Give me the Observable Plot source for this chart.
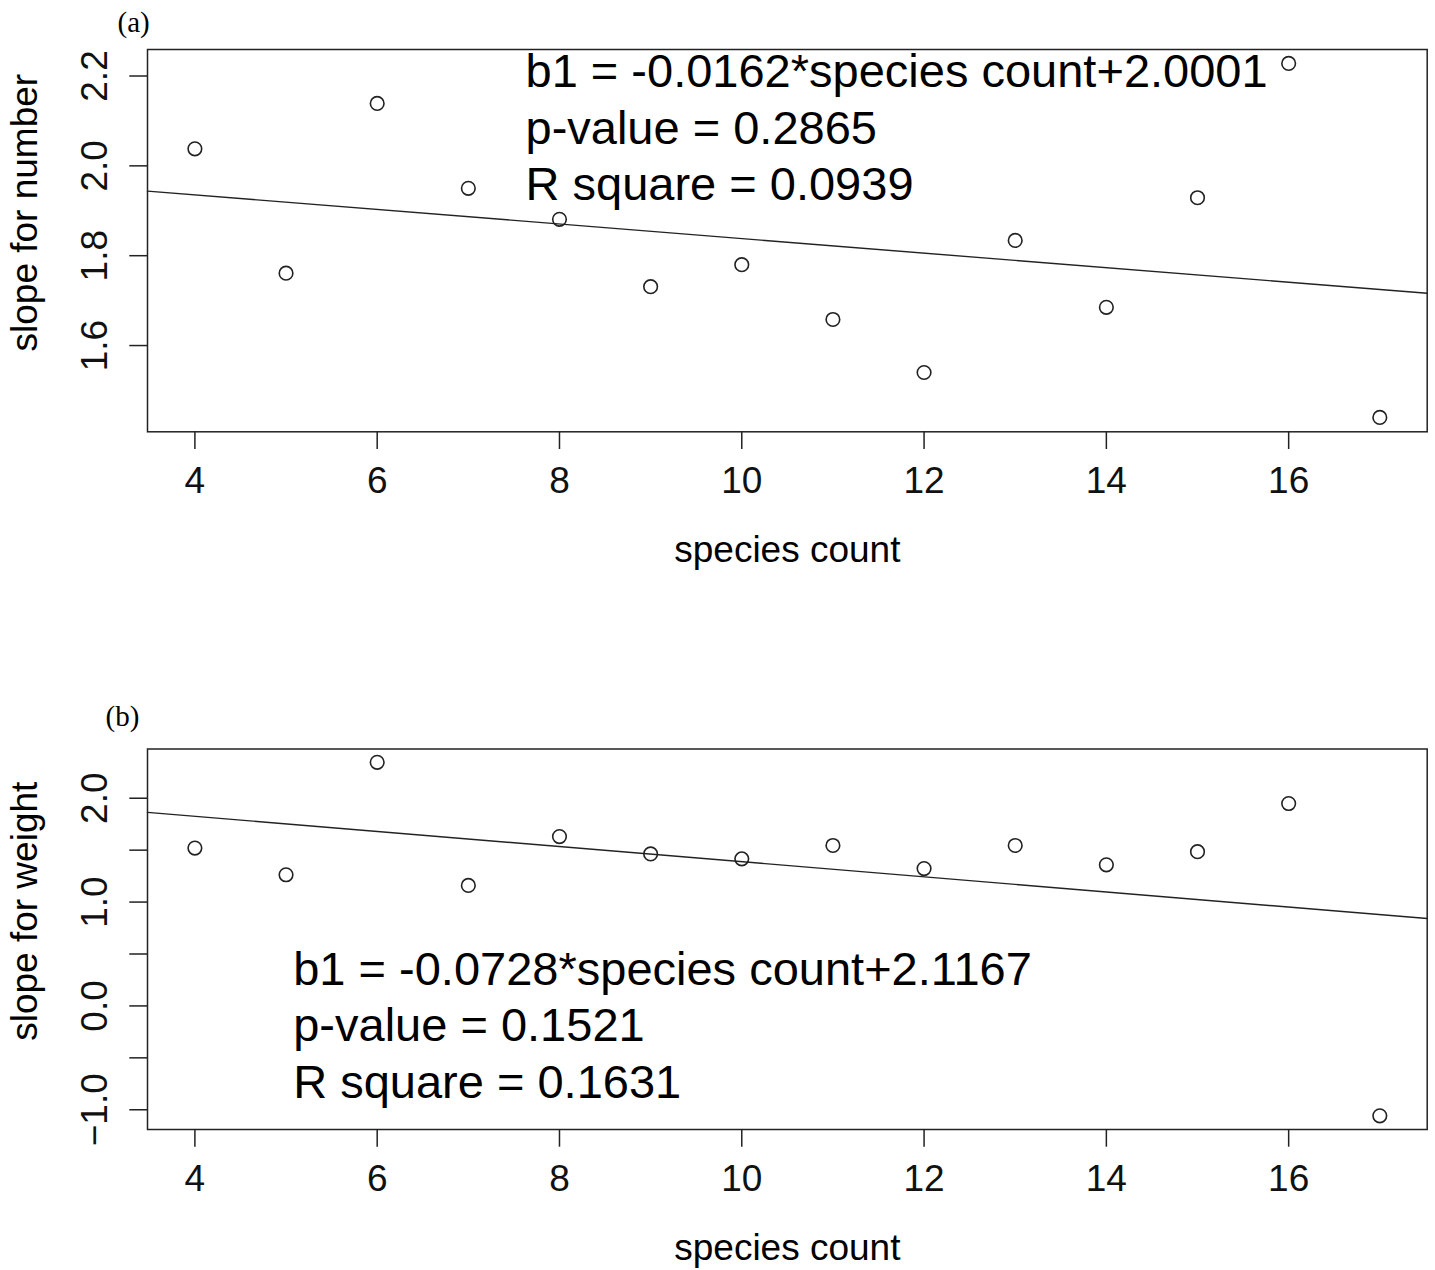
<!DOCTYPE html>
<html><head><meta charset="utf-8">
<script src="https://cdn.jsdelivr.net/npm/d3@7"></script>
<script src="https://cdn.jsdelivr.net/npm/@observablehq/plot@0.6"></script>
<style>
html,body{margin:0;padding:0;background:#fff;}
#chart{width:1435px;}
#chart svg{display:block;}
</style></head><body><div id="chart"></div>
<script>
// ---- data ----
const speciesCount = [4, 5, 6, 7, 8, 9, 10, 11, 12, 13, 14, 15, 16, 17];
const slopeNumber = [2.038, 1.761, 2.139, 1.950, 1.881, 1.731, 1.780, 1.658, 1.540, 1.834, 1.685, 1.929, 2.228, 1.440];
const slopeWeight = [1.520, 1.263, 2.346, 1.160, 1.631, 1.464, 1.416, 1.545, 1.323, 1.545, 1.359, 1.485, 1.949, -1.058];
const xTicks = [4, 6, 8, 10, 12, 14, 16];
const yTicksA = [1.6, 1.8, 2.0, 2.2];
const yTicksB = [-1.0, -0.5, 0.0, 0.5, 1.0, 1.5, 2.0];
const yLabelsB = [-1.0, 0.0, 1.0, 2.0];
const fitSlope = [-0.0162, -0.0728];
const fitIntercept = [2.0001, 2.1167];
const panelTags = ["(a)", "(b)"];
const yTitles = ["slope for number", "slope for weight"];
const xTitle = "species count";
const annotations = [
  ["b1 = -0.0162*species count+2.0001", "p-value = 0.2865", "R square = 0.0939"],
  ["b1 = -0.0728*species count+2.1167", "p-value = 0.1521", "R square = 0.1631"]
];

const xDomain = [3.48, 17.52];
const yDomains = [[1.408, 2.259], [-1.19, 2.474]];

const SANS = "'Liberation Sans', Arial, sans-serif";
const SERIF = "'Liberation Serif', 'Times New Roman', serif";
const INK = "#222";

function panel(i, values, cfg) {
  const rows = speciesCount.map((x, k) => ({x, y: values[k]}));
  const fit = xDomain.map(x => ({x, y: fitSlope[i] * x + fitIntercept[i]}));
  return Plot.plot({
    width: 1435,
    height: cfg.height,
    marginTop: cfg.marginTop,
    marginBottom: cfg.marginBottom,
    marginLeft: 147,
    marginRight: 8.3,
    style: {fontFamily: SANS, background: "#fff", color: "#111", overflow: "visible"},
    x: {domain: xDomain, label: null},
    y: {domain: yDomains[i], label: null},
    marks: [
      Plot.frame({stroke: INK, strokeWidth: 1.5}),
      Plot.axisX({ticks: xTicks, tickSize: 17.7, tickPadding: 17.7, fontSize: 37, stroke: INK, strokeWidth: 1.5, label: null, tickFormat: d => String(d)}),
      Plot.axisY({ticks: cfg.yTicks, tickSize: 17.7, tickPadding: 23.3, tickRotate: -90, fontSize: 37, stroke: INK, strokeWidth: 1.5, label: null,
        tickFormat: cfg.yFormat}),
      Plot.line(fit, {x: "x", y: "y", stroke: INK, strokeWidth: 1.4}),
      Plot.dot(rows, {x: "x", y: "y", r: 6.8, stroke: INK, strokeWidth: 1.6, fill: "none"}),
      Plot.text([annotations[i].join("\n")], {frameAnchor: "top-left", textAnchor: "start", lineAnchor: "bottom",
        lineHeight: 1.198, dx: cfg.annDx, dy: cfg.annDy, fontSize: 47, fill: "#000"}),
      Plot.text([xTitle], {frameAnchor: "bottom", lineAnchor: "bottom", dy: 130.2, fontSize: 37, fill: "#000"}),
      Plot.text([yTitles[i]], {frameAnchor: "left", rotate: -90, textAnchor: "middle", lineAnchor: "bottom",
        dx: -111, dy: -28, fontSize: 37, fill: "#000"}),
      Plot.text([panelTags[i]], {frameAnchor: "top-left", textAnchor: "start", lineAnchor: "bottom",
        dx: cfg.tagDx, dy: cfg.tagDy, fontSize: 29, fontFamily: SERIF, fill: "#000"})
    ]
  });
}

const chart = document.getElementById("chart");
chart.append(panel(0, slopeNumber, {
  height: 620, marginTop: 49, marginBottom: 188.7, yTicks: yTicksA,
  yFormat: d => d.toFixed(1),
  annDx: 378, annDy: 150.3, tagDx: -30, tagDy: -17.5
}));
chart.append(panel(1, slopeWeight, {
  height: 650, marginTop: 128.5, marginBottom: 141, yTicks: yTicksB,
  yFormat: d => (yLabelsB.includes(d) ? d.toFixed(1).replace("-", "\u2212") : ""),
  annDx: 145.7, annDy: 348.5, tagDx: -42, tagDy: -23.5
}));
</script></body></html>
